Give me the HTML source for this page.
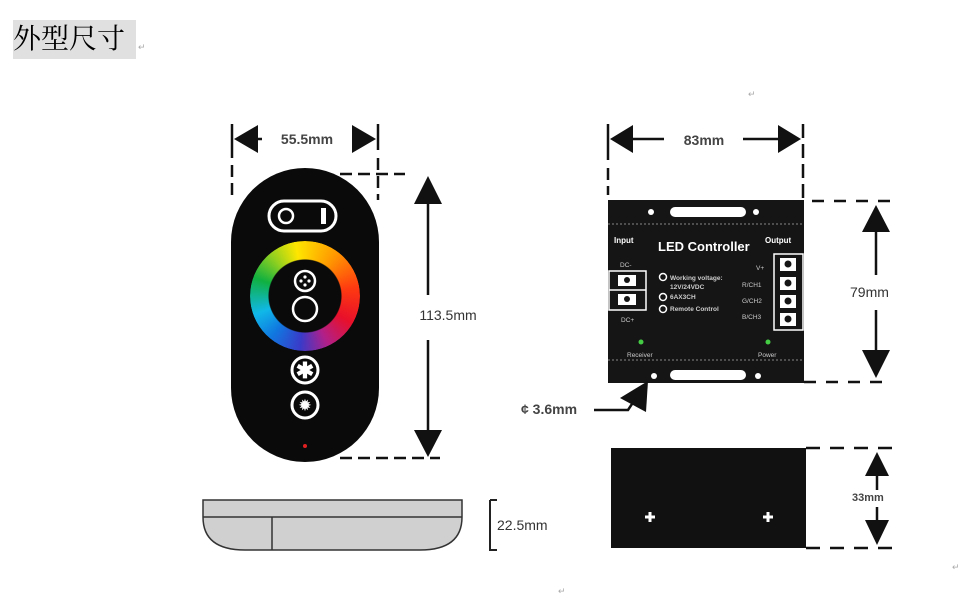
<!DOCTYPE html>
<html><head><meta charset="utf-8"><style>
html,body{margin:0;padding:0;background:#fff;width:971px;height:595px;overflow:hidden;position:relative}
.t{position:absolute;left:13px;top:20px;width:123px;height:39px;background:#e0e0e0;font-family:"Liberation Serif","Noto Serif CJK SC",serif;font-size:28px;line-height:39px;color:#000}
.ring{position:absolute;left:250px;top:241px;width:110px;height:110px;border-radius:50%;
background:conic-gradient(from -10deg,#ffe600,#ff9a00,#ff3a10 90deg,#e8102a 130deg,#b0208a 165deg,#3a3ac8 195deg,#1078e0 230deg,#10b8e8 260deg,#10b040 300deg,#90d020 330deg,#ffe600);
-webkit-mask:radial-gradient(circle,transparent 36px,#000 37px);mask:radial-gradient(circle,transparent 36px,#000 37px)}
svg{position:absolute;left:0;top:0}
</style></head><body>
<div class="t">外型尺寸</div>
<svg width="971" height="595" font-family="Liberation Sans, sans-serif">
<g fill="#aaa" font-size="9"><text x="138" y="50">↵</text><text x="748" y="97">↵</text><text x="558" y="594">↵</text><text x="952" y="570">↵</text></g>
<!-- remote -->
<rect x="231" y="168" width="148" height="294" rx="74" fill="#0a0a0a"/>
<rect x="269" y="201" width="67" height="30" rx="15" fill="none" stroke="#fff" stroke-width="3"/>
<circle cx="286" cy="216" r="7" fill="none" stroke="#fff" stroke-width="2.5"/>
<rect x="321" y="208" width="5" height="16" fill="#fff"/>
<circle cx="305" cy="281" r="10" fill="none" stroke="#fff" stroke-width="2.5"/>
<g fill="#fff"><circle cx="305" cy="277" r="1.6"/><circle cx="305" cy="285" r="1.6"/><circle cx="301" cy="281" r="1.6"/><circle cx="309" cy="281" r="1.6"/></g>
<circle cx="305" cy="309" r="12" fill="none" stroke="#fff" stroke-width="2.5"/>
<circle cx="305" cy="370" r="13" fill="none" stroke="#fff" stroke-width="3"/>
<text x="305" y="378" fill="#fff" font-size="22" text-anchor="middle" font-weight="bold">✱</text>
<circle cx="305" cy="405" r="13" fill="none" stroke="#fff" stroke-width="3"/>
<text x="305" y="410" fill="#fff" font-size="14" text-anchor="middle" font-weight="bold">✹</text>
<circle cx="305" cy="446" r="2" fill="#e02020"/>
<!-- 55.5 dimension -->
<g stroke="#111" stroke-width="2.5">
<line x1="232" y1="124" x2="232" y2="158"/><line x1="378" y1="124" x2="378" y2="150"/>
<line x1="245" y1="139" x2="262" y2="139"/><line x1="353" y1="139" x2="366" y2="139"/>
<line x1="232" y1="165" x2="232" y2="200" stroke-dasharray="12,6"/>
<line x1="378" y1="158" x2="378" y2="200" stroke-dasharray="12,6"/>
<line x1="340" y1="174" x2="405" y2="174" stroke-dasharray="12,6"/>
<line x1="340" y1="458" x2="440" y2="458" stroke-dasharray="12,6"/>
<line x1="428" y1="200" x2="428" y2="295"/><line x1="428" y1="340" x2="428" y2="435"/>
</g>
<g fill="#111">
<polygon points="234,139 258,125 258,153"/><polygon points="376,139 352,125 352,153"/>
<polygon points="428,176 414,204 442,204"/><polygon points="428,457 414,430 442,430"/>
</g>
<text x="307" y="144" font-size="14" fill="#444" text-anchor="middle" font-weight="bold">55.5mm</text>
<text x="448" y="320" font-size="14" fill="#333" text-anchor="middle">113.5mm</text>
<!-- side remote -->
<path d="M203,500 H462 V517 Q462,550 420,550 H245 Q203,550 203,517 Z" fill="#d0d0d0" stroke="#333" stroke-width="1.5"/>
<line x1="203" y1="517" x2="462" y2="517" stroke="#333" stroke-width="1.5"/>
<line x1="272" y1="517" x2="272" y2="550" stroke="#333" stroke-width="1.5"/>
<path d="M490,500 H497 M490,500 V550 H497" stroke="#222" stroke-width="2" fill="none"/>
<text x="497" y="530" font-size="14" fill="#333">22.5mm</text>
<!-- controller top -->
<rect x="608" y="200" width="196" height="183" fill="#151515"/>
<g fill="#fff"><circle cx="651" cy="212" r="3"/><circle cx="756" cy="212" r="3"/><circle cx="654" cy="376" r="3"/><circle cx="758" cy="376" r="3"/></g>
<rect x="670" y="207" width="76" height="10" rx="5" fill="#fff"/>
<rect x="670" y="370" width="76" height="10" rx="5" fill="#fff"/>
<line x1="608" y1="224" x2="804" y2="224" stroke="#888" stroke-dasharray="2,2"/>
<line x1="608" y1="360" x2="804" y2="360" stroke="#888" stroke-dasharray="2,2"/>
<g fill="#fff" font-weight="bold">
<text x="614" y="243" font-size="8">Input</text>
<text x="765" y="243" font-size="8">Output</text>
<text x="658" y="251" font-size="13">LED Controller</text>
</g>
<g fill="#ccc" font-size="6.5">
<text x="620" y="267">DC-</text><text x="621" y="322">DC+</text>
<text x="756" y="270">V+</text><text x="742" y="287">R/CH1</text><text x="742" y="303">G/CH2</text><text x="742" y="319">B/CH3</text>
<text x="670" y="280" font-weight="bold">Working voltage:</text><text x="670" y="289" font-weight="bold">12V/24VDC</text>
<text x="670" y="299" font-weight="bold">6AX3CH</text><text x="670" y="311" font-weight="bold">Remote Control</text>
<text x="627" y="357">Receiver</text><text x="758" y="357">Power</text>
</g>
<g fill="none" stroke="#fff" stroke-width="1.5">
<circle cx="663" cy="277" r="3.5"/><circle cx="663" cy="297" r="3.5"/><circle cx="663" cy="309" r="3.5"/>
<rect x="609" y="271" width="37" height="39"/><line x1="609" y1="290" x2="646" y2="290"/>
<rect x="774" y="254" width="29" height="76"/>
</g>
<g fill="#fff"><rect x="618" y="275" width="18" height="11"/><rect x="618" y="294" width="18" height="11"/>
<rect x="780" y="258" width="16" height="13"/><rect x="780" y="277" width="16" height="13"/><rect x="780" y="295" width="16" height="13"/><rect x="780" y="313" width="16" height="13"/></g>
<g fill="#151515"><circle cx="627" cy="280" r="3"/><circle cx="627" cy="299" r="3"/><circle cx="788" cy="264" r="3.5"/><circle cx="788" cy="283" r="3.5"/><circle cx="788" cy="301" r="3.5"/><circle cx="788" cy="319" r="3.5"/></g>
<circle cx="641" cy="342" r="2.5" fill="#4c4"/><circle cx="768" cy="342" r="2.5" fill="#4c4"/>
<!-- pointer -->
<polygon points="620,398 648,381 646,412" fill="#111"/>
<path d="M594,410 H628 L636,398" stroke="#111" stroke-width="2.5" fill="none"/>
<text x="521" y="414" font-size="14" fill="#444" font-weight="bold">¢ 3.6mm</text>
<!-- 83 dim -->
<g stroke="#111" stroke-width="2.5">
<line x1="608" y1="124" x2="608" y2="160"/><line x1="608" y1="168" x2="608" y2="195" stroke-dasharray="12,6"/>
<line x1="803" y1="124" x2="803" y2="200" stroke-dasharray="14,6"/>
<line x1="630" y1="139" x2="664" y2="139"/><line x1="743" y1="139" x2="780" y2="139"/>
<line x1="812" y1="201" x2="890" y2="201" stroke-dasharray="12,10"/>
<line x1="804" y1="382" x2="890" y2="382" stroke-dasharray="12,10"/>
<line x1="876" y1="225" x2="876" y2="275"/><line x1="876" y1="310" x2="876" y2="355"/>
<line x1="806" y1="448" x2="895" y2="448" stroke-dasharray="14,10"/>
<line x1="806" y1="548" x2="895" y2="548" stroke-dasharray="14,10"/>
<line x1="877" y1="470" x2="877" y2="490"/><line x1="877" y1="507" x2="877" y2="525"/>
</g>
<g fill="#111">
<polygon points="610,139 633,125 633,153"/><polygon points="801,139 778,125 778,153"/>
<polygon points="876,205 862,232 890,232"/><polygon points="876,378 862,350 890,350"/>
<polygon points="877,452 865,476 889,476"/><polygon points="877,545 865,520 889,520"/>
</g>
<text x="704" y="145" font-size="14" fill="#444" text-anchor="middle" font-weight="bold">83mm</text>
<text x="850" y="297" font-size="14" fill="#333">79mm</text>
<text x="852" y="501" font-size="11" fill="#444" font-weight="bold">33mm</text>
<!-- controller side -->
<rect x="611" y="448" width="195" height="100" fill="#111"/>
<g stroke="#fff" stroke-width="3"><line x1="645" y1="517" x2="655" y2="517"/><line x1="650" y1="512" x2="650" y2="522"/><line x1="763" y1="517" x2="773" y2="517"/><line x1="768" y1="512" x2="768" y2="522"/></g>
</svg>
<div class="ring"></div>
</body></html>
